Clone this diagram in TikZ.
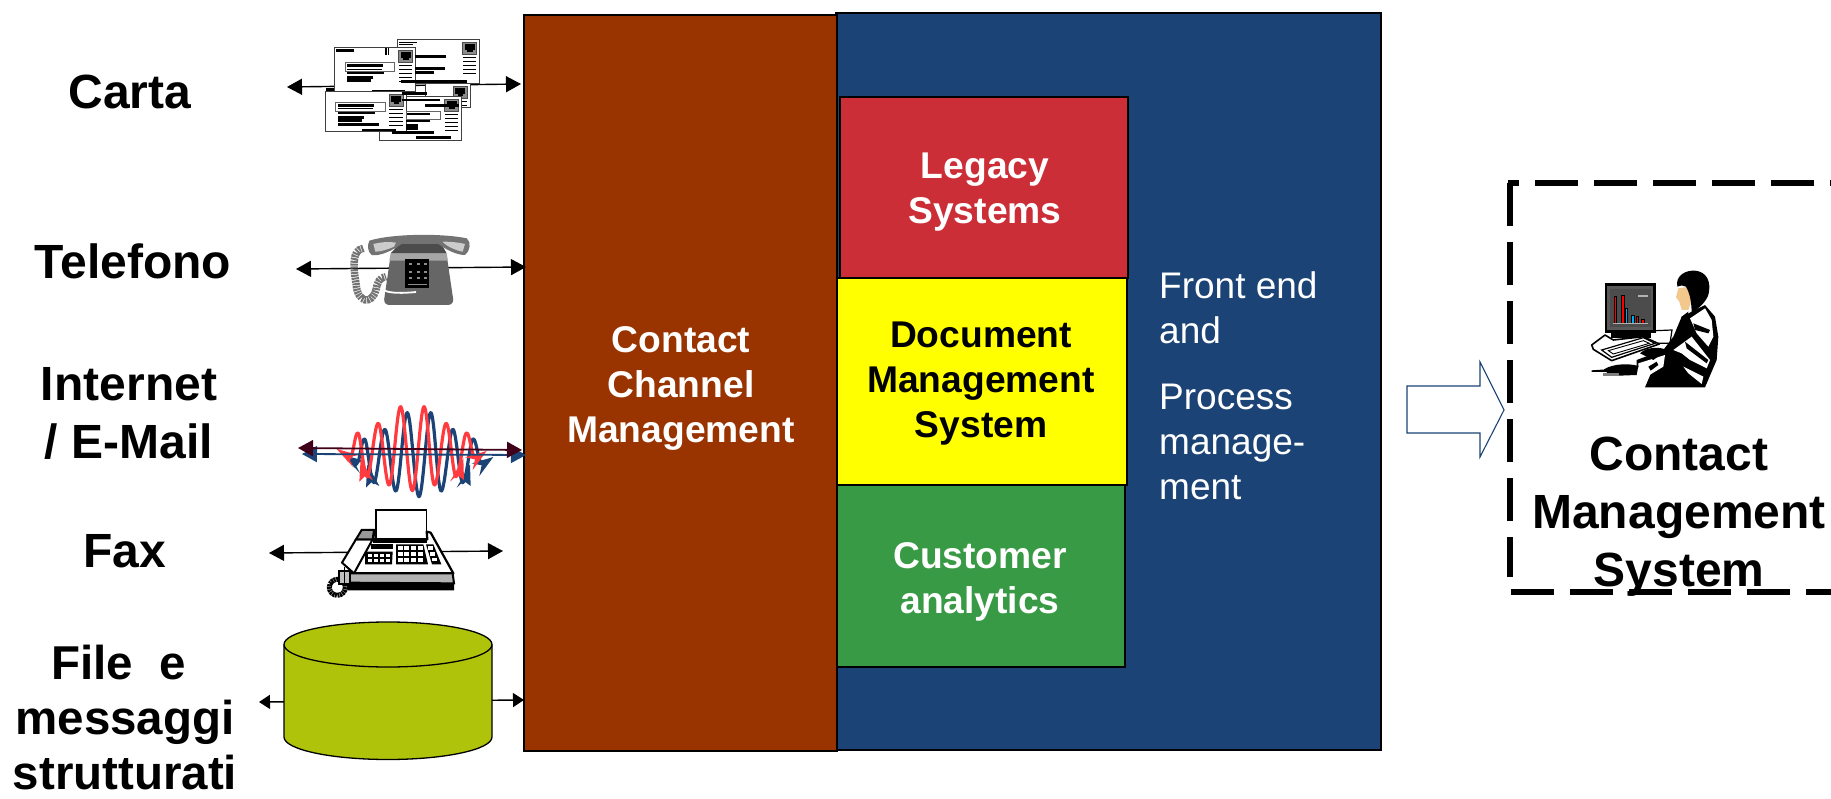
\documentclass[tikz,border=0pt]{standalone}
\usepackage{fontspec}
\setmainfont{Liberation Sans}
\usetikzlibrary{arrows.meta}
\definecolor{brownbox}{HTML}{993300}
\definecolor{bluebox}{HTML}{1B4375}
\definecolor{redbox}{HTML}{CC2E38}
\definecolor{yellowbox}{HTML}{FFFF00}
\definecolor{greenbox}{HTML}{389A45}
\definecolor{olive}{HTML}{AFC30A}
\definecolor{wavered}{HTML}{FF3B40}
\definecolor{darkarrow}{HTML}{40001A}
\definecolor{skin}{HTML}{F2C88C}
\tikzset{
  panel/.style={draw=black,line width=1.6pt,minimum width=0pt},
  biglabel/.style={font=\fontsize{48}{58}\selectfont\bfseries,align=center,text=black,inner sep=0pt},
  filelabel/.style={font=\fontsize{47.5}{55}\selectfont\bfseries,align=center,text=black,inner sep=0pt},
  boxlabel/.style={font=\fontsize{37.2}{45}\selectfont\bfseries,align=center,inner sep=0pt},
  sidelabel/.style={font=\fontsize{37}{45}\selectfont,align=left,text=white,inner sep=0pt,anchor=west},
  dbl/.style={line width=1.4pt,{Triangle[length=15pt,width=16pt]}-{Triangle[length=15pt,width=16pt]}},
  dblsmall/.style={line width=1.4pt,{Triangle[length=11pt,width=14pt]}-{Triangle[length=11pt,width=14pt]}},
  env/.style={draw=black!75,line width=.9pt,fill=white},
  bar/.style={fill=black,draw=none},
}
\begin{document}
\begin{tikzpicture}[x=1pt,y=-1pt]
\useasboundingbox (0,0) rectangle (1831,799);
\clip (0,0) rectangle (1831,799);

% connector ends
\coordinate (cartaL) at (287,87);
\coordinate (cartaR) at (521,84);
\coordinate (telL) at (296,269);
\coordinate (telR) at (526,267);
\coordinate (blueL) at (302,454);
\coordinate (blueR) at (526,455);
\coordinate (darkL) at (298,448);
\coordinate (darkR) at (522,450);
\coordinate (faxL) at (269,553);
\coordinate (faxR) at (503,551);
\coordinate (fileL) at (259,702);
\coordinate (fileR) at (524,700);

% main panels
\path[panel,fill=bluebox] (836,13) rectangle (1381,750);
\path[panel,fill=brownbox] (524,15) rectangle (837,751);
\path[panel,fill=redbox] (840,97) rectangle (1128,278);
\path[panel,fill=yellowbox] (837,278) rectangle (1127,485);
\path[panel,fill=greenbox] (837,485) rectangle (1125,667);

\node[boxlabel,text=white] (ccm) at (681,388) {Contact\\Channel\\Management};
\node[boxlabel,text=white] (legacy) at (985,192) {Legacy\\Systems};
\node[boxlabel,text=black] (dms) at (981,384) {Document\\Management\\System};
\node[boxlabel,text=white] (ca) at (980,582) {Customer\\analytics};
\node[sidelabel] (fe) at (1159,308) {Front end\\and};
\node[sidelabel] (pm) at (1159,442) {Process\\manage-\\ment};

% left labels
\node[biglabel] (carta) at (130,92) {Carta};
\node[biglabel] (tel) at (133,261) {Telefono};
\node[biglabel] (net) at (129,413) {Internet\\/ E-Mail};
\node[biglabel] (fax) at (125,551) {Fax};
\node[filelabel] (file) at (125,718) {File\ \ e\ \mbox{}\\messaggi\\strutturati};

% connectors behind icons
\draw[dbl] (cartaL) -- (cartaR);
\draw[dbl] (telL) -- (telR);
\draw[dbl] (faxL) -- (faxR);
\draw[dblsmall] (fileL) -- (fileR);

% letters icon
\begin{scope}[shift={(270,20)},scale=1/3]
  \foreach \ox/\oy/\w/\h in {382/58/246/132, 465/190/135/72, 328/230/246/130, 165/215/243/120, 193/82/243/133}{
    \draw[env] (\ox,\oy) rectangle ++(\w,\h);
    \draw[draw=black!70,line width=.7pt,fill=black!45] (\ox+\w-50,\oy+8) rectangle ++(42,36);
    \fill[black] (\ox+\w-44,\oy+14) rectangle ++(30,18);
    \fill[black] (\ox+\w-36,\oy+32) rectangle ++(16,6);
    \foreach \k in {52,64,76,88,100}{
      \ifdim\dimexpr\k pt+5pt<\h pt \fill[black] (\ox+\w-50,\oy+\k) rectangle ++(40,3);\fi}
  }
  % address strips
  \draw[draw=black!60,line width=.8pt,fill=white] (225,128) rectangle (374,153);
  \fill[black] (232,132) rectangle (338,141);
  \fill[black] (232,146) rectangle (335,149);
  \fill[black] (232,155) rectangle (342,162);
  \fill[black] (232,168) rectangle (308,176);
  \fill[black] (232,178) rectangle (302,186);
  \fill[black] (198,87) rectangle (252,95);
  \fill[black] (346,84) rectangle (350,104);
  \fill[black] (354,84) rectangle (358,104);
  \fill[black] (305,209) rectangle (405,214);
  \draw[draw=black!60,line width=.8pt,fill=white] (197,248) rectangle (346,273);
  \fill[black] (204,252) rectangle (312,261);
  \fill[black] (204,265) rectangle (310,268);
  \fill[black] (204,276) rectangle (315,281);
  \fill[black] (204,288) rectangle (282,297);
  \fill[black] (204,298) rectangle (276,306);
  \fill[black] (204,309) rectangle (326,317);
  \fill[black] (275,327) rectangle (378,333);
  \draw[draw=black!60,line width=.8pt,fill=white] (408,274) rectangle (510,298);
  \fill[black] (410,279) rectangle (480,285);
  \fill[black] (408,300) rectangle (480,306);
  \fill[black] (408,312) rectangle (444,330);
  \fill[black] (366,334) rectangle (492,341);
  \fill[black] (438,349) rectangle (544,356);
  \fill[black] (436,105) rectangle (528,115);
  \fill[black] (436,140) rectangle (526,150);
  \fill[black] (436,154) rectangle (492,162);
  \fill[black] (392,180) rectangle (590,190);
  \fill[black] (388,65) rectangle (440,68);
  \fill[black] (388,73) rectangle (430,76);
  \fill[black] (395,217) rectangle (470,225);
  \fill[black] (395,236) rectangle (510,243);
  \fill[black] (465,253) rectangle (568,261);
  \fill[black] (168,205) rectangle (193,213);
\end{scope}

% telephone icon
\begin{scope}[shift={(270,20)},scale=1/3]
  \draw[black!55,line width=7.5pt,dash pattern=on 2pt off .8pt] (280,685) .. controls (245,690) and (250,740) .. (258,790) .. controls (262,850) and (305,855) .. (318,810) .. controls (322,785) and (330,772) .. (348,770);
  \fill[black!60,rounded corners=6pt] (362,705) -- (530,705) -- (552,855) -- (340,855) -- cycle;
  \fill[black!35] (362,700) -- (530,700) -- (534,722) -- (358,722) -- cycle;
  \draw[white,line width=1.8pt] (345,812) .. controls (360,820) and (400,820) .. (438,816);
  \fill[black!70] (395,665) -- (510,665) -- (530,700) -- (362,700) -- cycle;
  \fill[black!55] (298,662) .. controls (370,640) and (520,640) .. (590,655) .. controls (605,665) and (600,695) .. (585,705) .. controls (560,705) and (530,690) .. (505,672) -- (395,672) .. controls (370,690) and (330,710) .. (305,705) .. controls (292,695) and (292,675) .. (298,662) -- cycle;
  \fill[black!20] (310,672) .. controls (340,665) and (360,665) .. (378,668) -- (372,680) .. controls (350,690) and (330,695) .. (316,695) -- cycle;
  \fill[black!20] (518,665) .. controls (545,665) and (570,668) .. (585,672) -- (578,695) .. controls (560,692) and (530,680) .. (518,665) -- cycle;
  \fill[black] (405,717) rectangle (478,803);
  \foreach \a in {417,440,463}\foreach \b in {730,752,772}{\fill[black!45] (\a,\b) rectangle ++(9,6);}
  \fill[black!45] (414,792) rectangle (470,796);
\end{scope}

% wave icon
\begin{scope}[shift={(250,380)},scale=1/3]
  \def\wavepath{plot[smooth,tension=.62] coordinates {(290,240)(305,225)(325,160)(352,290)(385,130)(418,315)(452,80)(487,332)(522,80)(553,315)(588,130)(618,290)(648,160)(670,225)(690,235)}}
  \begin{scope}[shift={(20,18)}]
    \draw[bluebox,line width=3.2pt,line join=round] \wavepath;
    \fill[bluebox] (260,207) -- (325,225) -- (295,232) -- (310,262) -- cycle;
    \fill[bluebox] (332,235) -- (368,300) -- (345,288) -- (328,305) -- cycle;
    \fill[bluebox] (640,235) -- (600,305) -- (622,285) -- (642,300) -- cycle;
    \fill[bluebox] (710,213) -- (645,232) -- (675,238) -- (668,270) -- cycle;
  \end{scope}
  \draw[wavered,line width=3.2pt,line join=round] \wavepath;
  \fill[wavered] (260,207) -- (325,225) -- (295,232) -- (310,262) -- cycle;
  \fill[wavered] (332,235) -- (368,300) -- (345,288) -- (328,305) -- cycle;
  \fill[wavered] (640,235) -- (600,305) -- (622,285) -- (642,300) -- cycle;
  \fill[wavered] (710,213) -- (645,232) -- (675,238) -- (668,270) -- cycle;
\end{scope}
\draw[dbl,bluebox,line width=1.8pt] (blueL) -- (blueR);
\draw[dbl,darkarrow,line width=1.8pt] (darkL) -- (darkR);

% fax icon
\begin{scope}[shift={(250,380)},scale=1/3]
  \draw[black,line width=1.2pt,fill=white] (378,390) rectangle (530,478);
  \draw[black,line width=2.2pt,fill=white,line join=round] (372,458) -- (370,478) -- (532,478) -- (530,455) -- (542,458) -- (610,580) -- (300,580) -- cycle;
  \fill[black] (368,478) rectangle (532,488);
  \fill[black] (362,493) rectangle (430,508);
  \fill[black] (345,515) -- (428,515) -- (426,553) -- (345,553) -- cycle;
  \fill[black] (438,493) -- (520,493) -- (534,553) -- (438,553) -- cycle;
  \fill[black] (528,493) -- (550,493) -- (574,553) -- (546,553) -- cycle;
  \foreach \a in {0,1,2,3}\foreach \b in {0,1}{\fill[white] (353+\a*18,522+\b*14) rectangle ++(13,9);}
  \foreach \a in {0,1,2,3}\foreach \b in {0,1,2}{\fill[white] (443+\a*20,499+\b*17) rectangle ++(15,12);}
  \foreach \b in {0,1,2}{\fill[white] (535+\b*6,499+\b*17) rectangle ++(15,11);}
  \draw[black,line width=2pt,fill=white,line join=round] (318,478) -- (368,478) -- (312,580) -- (276,548) -- cycle;
  \draw[black,line width=2pt,fill=black!40] (318,478) -- (335,450) -- (372,450) -- (368,478) -- cycle;
  \draw[black,line width=2pt,fill=black!30] (290,580) -- (608,580) -- (612,610) -- (290,608) -- cycle;
  \fill[black] (290,606) -- (612,610) -- (612,631) -- (292,631) -- cycle;
  \draw[black,line width=5pt,dash pattern=on 2pt off .6pt] (262,622) circle[radius=24];
  \draw[black,line width=2pt,fill=black!25] (268,572) rectangle (300,612);
  \draw[black,line width=1.4pt] (284,560) -- (284,612);
\end{scope}

% cylinder
\draw[black,line width=1.3pt,fill=olive] (284,644.5) -- (284,737) arc[start angle=180,end angle=0,x radius=104,y radius=22.5] -- (492,644.5) arc[start angle=0,end angle=-180,x radius=104,y radius=22.5] -- cycle;
\draw[black,line width=1.3pt] (284,644.5) arc[start angle=180,end angle=0,x radius=104,y radius=22.5];

% block arrow
\draw[bluebox,line width=1.1pt,fill=white,line join=miter] (1407,386) -- (1480,386) -- (1480,362) -- (1504,410) -- (1480,457) -- (1480,433) -- (1407,433) -- cycle;

% dashed frame
\draw[black,line width=5.5pt,dash pattern=on 43pt off 16pt,dash phase=32pt] (1508,183) -- (1840,183);
\draw[black,line width=5.5pt,dash pattern=on 43pt off 16pt] (1510,183) -- (1510,577);
\draw[black,line width=5.5pt,dash pattern=on 43pt off 16pt] (1511,592) -- (1840,592);

\node[biglabel] (cms) at (1679,517) {Contact\\Management\\System};

% person at computer
\begin{scope}[shift={(1380,160)},scale=1/3]
  \fill[black] (675,370) rectangle (828,518);
  \fill[black!65] (682,378) rectangle (820,510);
  \fill[black!70] (690,388) rectangle (812,502);
  \foreach \a/\t/\c in {702/410/red,725/405/red,735/445/cyan,755/465/cyan,768/470/red,785/478/red}{
    \fill[\c] (\a,\t) rectangle (\a+8,490);
    \draw[black,line width=.5pt] (\a,\t) rectangle (\a+8,490);}
  \draw[black!30,line width=.6pt] (700,490) -- (805,490);
  \fill[black!30] (775,405) rectangle (805,410);
  \fill[black] (692,520) rectangle (812,534);
  \draw[black,line width=1.2pt,fill=white] (828,512) -- (876,510) -- (870,550) -- (835,550);
  \draw[black,line width=1.6pt,fill=white,line join=round] (635,555) -- (675,525) -- (700,540) -- (790,530) -- (838,552) -- (695,602) -- (640,568) -- cycle;
  \draw[black,line width=1.2pt,fill=white] (665,570) -- (790,533) -- (825,550) -- (695,592) -- cycle;
  \draw[black,line width=.9pt] (685,572) -- (790,542) -- (808,550) -- (700,582) -- cycle;
  % body
  \fill[black] (795,682) -- (815,635) -- (770,620) -- (770,600) -- (850,570) -- (880,530) -- (905,470) -- (975,435) -- (1005,470) -- (1015,530) -- (1010,600) -- (975,682) -- cycle;
  \fill[white] (930,475) -- (975,445) -- (995,480) -- (1000,530) -- (985,560) -- (950,520) -- cycle;
  \fill[white] (880,570) -- (935,530) -- (990,600) -- (980,625) -- (930,600) -- (905,580) -- cycle;
  \fill[white] (910,620) -- (970,650) -- (965,672) -- (925,640) -- cycle;
  \fill[black] (940,490) -- (990,510) -- (985,520) -- (945,510) -- cycle;
  \fill[black] (915,545) -- (985,600) -- (980,610) -- (920,565) -- cycle;
  \fill[white] (775,610) -- (855,585) -- (850,620) -- (800,650) -- (775,640) -- cycle;
  \fill[black] (805,620) -- (830,605) -- (835,615) -- (812,632) -- cycle;
  \fill[black] (672,628) .. controls (700,610) and (750,610) .. (775,618) -- (770,645) -- (690,648) -- cycle;
  \fill[black] (780,580) .. controls (800,560) and (840,560) .. (860,570) -- (820,600) -- cycle;
  \fill[black] (635,631) -- (680,628) -- (680,636) -- (635,636) -- cycle;
  \fill[black!50] (670,638) rectangle (716,647);
  % head
  \fill[skin] (895,385) -- (925,380) -- (935,420) -- (925,450) -- (905,450) -- (898,425) -- (888,412) -- cycle;
  \fill[black] (892,380) .. controls (885,345) and (920,330) .. (945,332) .. controls (980,335) and (995,365) .. (985,405) .. controls (975,430) and (955,445) .. (935,460) .. controls (935,430) and (930,400) .. (918,380) .. controls (910,375) and (900,375) .. (892,380) -- cycle;
  \fill[black] (925,455) -- (905,540) -- (895,545) -- (905,470) -- cycle;
\end{scope}
\end{tikzpicture}
\end{document}
